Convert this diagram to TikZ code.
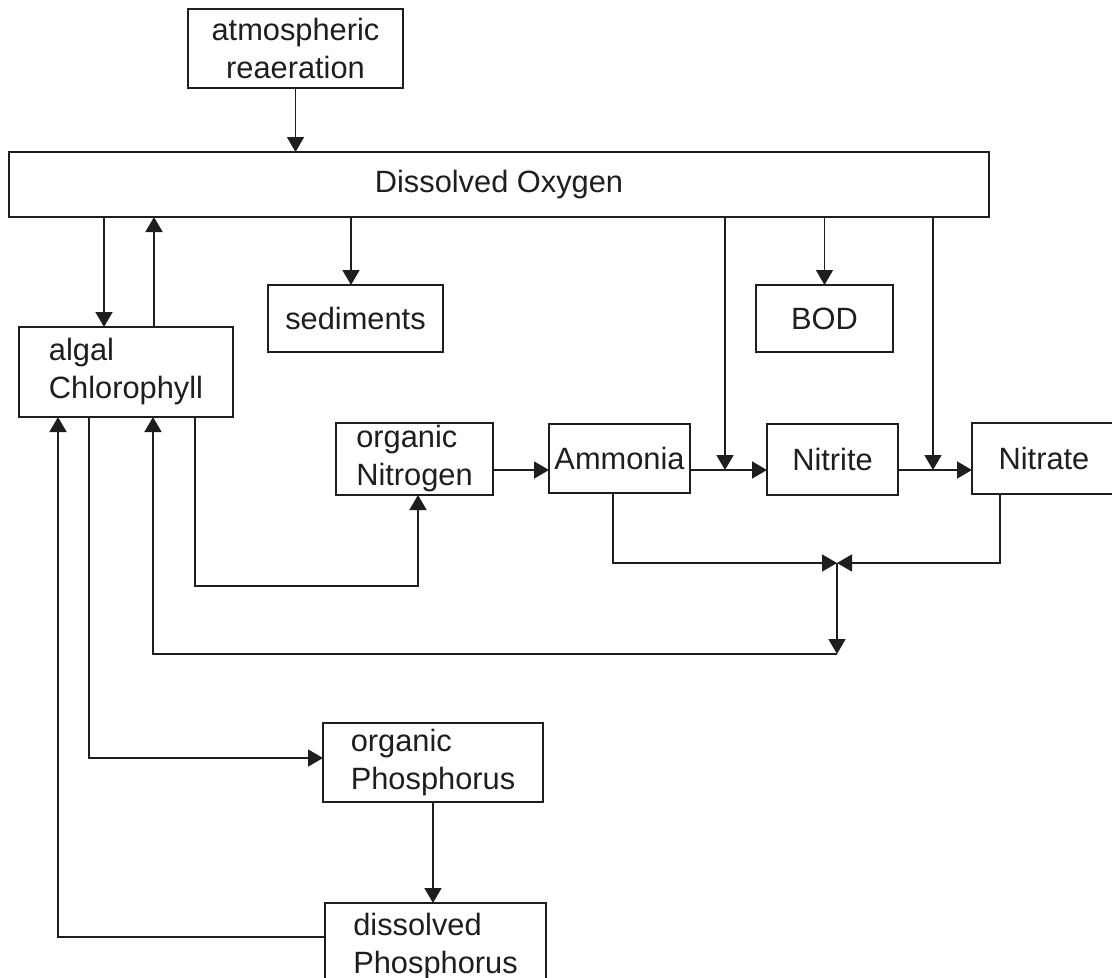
\documentclass[tikz,border=0pt]{standalone}
\usepackage{fontspec}
\setmainfont{Liberation Sans}
\usetikzlibrary{arrows.meta}
\definecolor{ink}{HTML}{1E1E1E}
\begin{document}
\begin{tikzpicture}[x=1pt,y=-1pt,
  box/.style={draw=ink, line width=1.6pt, inner sep=0pt, outer sep=0pt,
    font=\fontsize{30.8}{38}\selectfont, align=left, text=ink},
  conn/.style={draw=ink, line width=1.6pt},
  arr/.style={conn, -{Triangle[length=15pt,width=17pt]}}]
\useasboundingbox (0,0) rectangle (1112,978);
\clip (0,0) rectangle (1112,978);
% boxes
\node[box, minimum width=215pt, minimum height=79pt, align=center] (atm) at (295.5,48.5) {atmospheric\\reaeration};
\node[box, minimum width=980pt, minimum height=65pt] (DO) at (499,184.5) {Dissolved Oxygen};
\node[box, minimum width=175pt, minimum height=67pt] (sed) at (355.5,318.5) {sediments};
\node[box, minimum width=137pt, minimum height=67pt] (BOD) at (824.5,318.5) {BOD};
\node[box, minimum width=214pt, minimum height=90pt] (alg) at (126,372) {algal\\Chlorophyll};
\node[box, minimum width=157pt, minimum height=72pt] (orgN) at (414.5,459) {organic\\Nitrogen};
\node[box, minimum width=141pt, minimum height=69pt] (amm) at (619.5,458.5) {Ammonia};
\node[box, minimum width=131pt, minimum height=71pt] (nit) at (832.5,459.5) {Nitrite};
\node[box, minimum width=144pt, minimum height=71pt] (nat) at (1044,458.5) {Nitrate};
\node[box, minimum width=220pt, minimum height=79pt] (orgP) at (433,762.5) {organic\\Phosphorus};
\node[box, minimum width=221pt, minimum height=87pt] (dP) at (435.5,946.5) {dissolved\\Phosphorus};
% junction points
\coordinate (j1) at (725,470);
\coordinate (j2) at (933,470);
\coordinate (m) at (837,563);
\coordinate (mb) at (837,654);
% connectors
\draw[arr] (atm.south) -- (atm.south |- DO.north);
\draw[arr] (104,0 |- DO.south) -- (104,0 |- alg.north);
\draw[arr] (154,0 |- alg.north) -- (154,0 |- DO.south);
\draw[arr] (351,0 |- DO.south) -- (351,0 |- sed.north);
\draw[arr] (725,0 |- DO.south) -- (j1);
\draw[arr] (BOD.north |- DO.south) -- (BOD.north);
\draw[arr] (933,0 |- DO.south) -- (j2);
\draw[arr] (orgN.east |- 0,470) -- (amm.west |- 0,470);
\draw[arr] (amm.east |- 0,470) -- (nit.west |- 0,470);
\draw[arr] (nit.east |- 0,470) -- (nat.west |- 0,470);
\draw[arr] (613,0 |- amm.south) |- (m);
\draw[arr] (1000,0 |- nat.south) |- (m);
\draw[arr] (m) -- (mb);
\draw[arr] (mb) -| (153,0 |- alg.south);
\draw[arr] (195,0 |- alg.south) |- (418,586) -- (418,0 |- orgN.south);
\draw[arr] (89,0 |- alg.south) |- (orgP.west |- 0,758);
\draw[arr] (433,0 |- orgP.south) -- (433,0 |- dP.north);
\draw[arr] (dP.west |- 0,937) -| (58,0 |- alg.south);
\end{tikzpicture}
\end{document}
